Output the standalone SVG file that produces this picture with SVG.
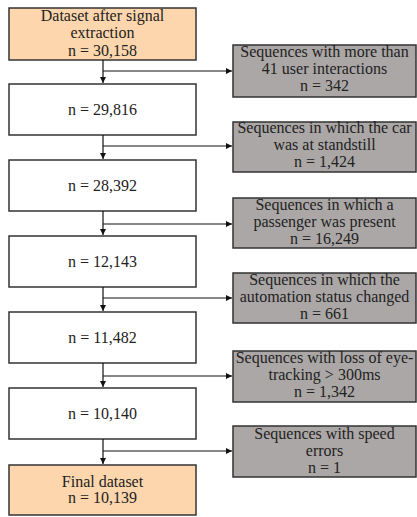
<svg xmlns="http://www.w3.org/2000/svg" width="417" height="517" viewBox="0 0 417 517">
<defs>
<marker id="ah" markerWidth="8" markerHeight="8" refX="6" refY="3" orient="auto" markerUnits="userSpaceOnUse">
<path d="M0,0 L6,3 L0,6 Z" fill="#111"/>
</marker>
<style>
.box{stroke:#333;stroke-width:1.5}
.main{fill:#ffffff}
.hl{fill:#fdd6ad}
.ex{fill:#aba7a6}
.t{font-family:'Liberation Serif','DejaVu Serif',serif;font-size:16px;fill:#222;text-anchor:middle}
.c{stroke:#111;stroke-width:1.2;fill:none}
</style>
</defs>
<g class="t" font-family="Liberation Serif, DejaVu Serif, serif">
<g id="n1"><rect class="box hl" x="9" y="8" width="187" height="52"/>
<text x="102.5" y="21">Dataset after signal</text><text x="102.5" y="38">extraction</text><text x="102.5" y="56">n = 30,158</text></g>
<g id="n2"><rect class="box main" x="9" y="84" width="187" height="51"/><text x="102.5" y="115">n = 29,816</text></g>
<g id="n3"><rect class="box main" x="9" y="160" width="187" height="51"/><text x="102.5" y="191">n = 28,392</text></g>
<g id="n4"><rect class="box main" x="9" y="236" width="187" height="51"/><text x="102.5" y="267">n = 12,143</text></g>
<g id="n5"><rect class="box main" x="9" y="312" width="187" height="51"/><text x="102.5" y="343">n = 11,482</text></g>
<g id="n6"><rect class="box main" x="9" y="388" width="187" height="51"/><text x="102.5" y="419">n = 10,140</text></g>
<g id="n7"><rect class="box hl" x="9" y="465" width="187" height="50"/><text x="102.5" y="487">Final dataset</text><text x="102.5" y="503">n = 10,139</text></g>
<g id="e1"><rect class="box ex" x="233" y="45" width="183" height="52"/><text x="324.5" y="57">Sequences with more than</text><text x="324.5" y="73.5">41 user interactions</text><text x="324.5" y="91">n = 342</text></g>
<g id="e2"><rect class="box ex" x="233" y="122" width="183" height="50"/><text x="324.5" y="133">Sequences in which the car</text><text x="324.5" y="150">was at standstill</text><text x="324.5" y="167">n = 1,424</text></g>
<g id="e3"><rect class="box ex" x="233" y="198" width="183" height="50"/><text x="324.5" y="210">Sequences in which a</text><text x="324.5" y="227">passenger was present</text><text x="324.5" y="244">n = 16,249</text></g>
<g id="e4"><rect class="box ex" x="233" y="273" width="183" height="50"/><text x="324.5" y="285">Sequences in which the</text><text x="324.5" y="302">automation status changed</text><text x="324.5" y="319">n = 661</text></g>
<g id="e5"><rect class="box ex" x="233" y="351" width="183" height="51"/><text x="324.5" y="363">Sequences with loss of eye-</text><text x="324.5" y="380">tracking &gt; 300ms</text><text x="324.5" y="397">n = 1,342</text></g>
<g id="e6"><rect class="box ex" x="233" y="426" width="183" height="51"/><text x="324.5" y="439">Sequences with speed</text><text x="324.5" y="456">errors</text><text x="324.5" y="473">n = 1</text></g>
</g>
<g id="connectors">
<path class="c" d="M103,60 V83" marker-end="url(#ah)"/>
<path class="c" d="M103,71 H232" marker-end="url(#ah)"/>
<path class="c" d="M103,135 V159" marker-end="url(#ah)"/>
<path class="c" d="M103,146 H232" marker-end="url(#ah)"/>
<path class="c" d="M103,211 V235" marker-end="url(#ah)"/>
<path class="c" d="M103,224 H232" marker-end="url(#ah)"/>
<path class="c" d="M103,287 V311" marker-end="url(#ah)"/>
<path class="c" d="M103,298 H232" marker-end="url(#ah)"/>
<path class="c" d="M103,363 V387" marker-end="url(#ah)"/>
<path class="c" d="M103,376 H232" marker-end="url(#ah)"/>
<path class="c" d="M103,439 V464" marker-end="url(#ah)"/>
<path class="c" d="M103,451 H232" marker-end="url(#ah)"/>
</g>
</svg>
